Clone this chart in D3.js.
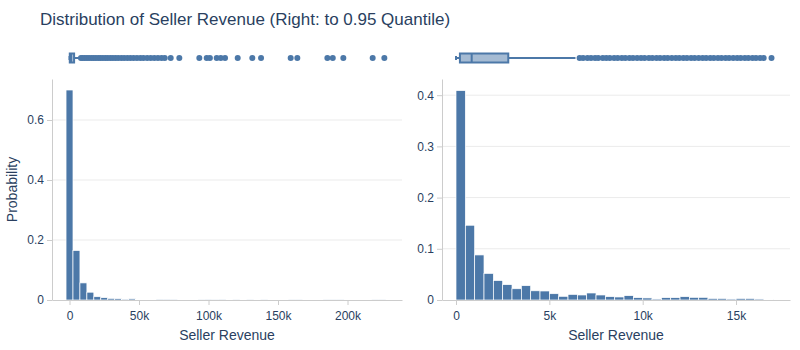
<!DOCTYPE html>
<html>
<head>
<meta charset="utf-8">
<script src="https://cdn.jsdelivr.net/npm/d3@7"></script>
<style>
	body { margin: 0; background: #fff; }
	svg text { font-family: "Liberation Sans", Arial, sans-serif; fill: #2a3f5f; }
</style>
</head>
<body>
<div id="chart"></div>
<script>
/**
 * Data
 */
var titleText = "Distribution of Seller Revenue (Right: to 0.95 Quantile)";
var xTitle = "Seller Revenue";
var yTitle = "Probability";

// left: full data, bins of 5k starting at -2.5k
var leftBinStart = -2500, leftBinSize = 5000;
var leftProb = [0.70, 0.165, 0.057, 0.026, 0.011, 0.0078, 0.0055, 0.0045, 0.003, 0.004,
	0.002, 0.002, 0.0015, 0.001, 0.0008, 0.0006, 0, 0, 0, 0.0004,
	0.0006, 0.0004, 0.0006, 0, 0.0004, 0, 0.0004, 0, 0.0004, 0,
	0, 0, 0.0004, 0.0004, 0, 0, 0, 0.0004, 0.0004, 0.0004,
	0, 0, 0, 0, 0.0004, 0.0004];

// right: data up to the 0.95 quantile, bins of 500
var rightBinStart = 0, rightBinSize = 500;
var rightProb = [0.409, 0.146, 0.088, 0.052, 0.038, 0.030, 0.022, 0.028, 0.018, 0.0176,
	0.0123, 0.0072, 0.011, 0.0098, 0.0137, 0.0098, 0.0065, 0.0059, 0.0085, 0.0046,
	0.004, 0.002, 0.0046, 0.0046, 0.0065, 0.0052, 0.0052, 0.003, 0.003, 0.002,
	0.003, 0.003, 0.002, 0.0008];

// marginal box plots: [q1, median, q3] and [lower, upper] whiskers
var leftQuartiles = [200, 1100, 3300];
var leftWhiskers = [0, 7900];
var leftOutliers = [8200, 9500, 11000, 12600, 14100, 15800, 17400, 19000, 20700, 22300,
	24000, 25800, 27500, 29400, 31200, 33100, 35000, 37200, 39300, 41600,
	43800, 46100, 48500, 51000, 53200, 55900, 58400, 61000, 63600, 66200,
	68500, 72800, 79000, 93400, 98700, 101000, 105900, 108800, 111900, 121000,
	131500, 137800, 159100, 163900, 185500, 189400, 197000, 218100, 226500];

var rightQuartiles = [210, 840, 2800];
var rightWhiskers = [0, 6400];
var rightOutliers = [6620, 6810, 7040, 7230, 7450, 7620, 7860, 8050, 8240, 8470,
	8660, 8880, 9070, 9290, 9480, 9700, 9910, 10100, 10330, 10520,
	10740, 10930, 11150, 11340, 11560, 11770, 11960, 12180, 12370, 12590,
	12780, 13000, 13210, 13400, 13620, 13810, 14030, 14220, 14440, 14630,
	14850, 15060, 15250, 15470, 15660, 15880, 16070, 16290, 16480, 16900];

var leftXTicks = [0, 50000, 100000, 150000, 200000];
var rightXTicks = [0, 5000, 10000, 15000];
var leftYTicks = [0, 0.2, 0.4, 0.6];
var rightYTicks = [0, 0.1, 0.2, 0.3, 0.4];

/**
 * Global layout values
 */
var _width = 800, _height = 350;
var _color = "#4c78a8";
var _plotTop = 79, _plotBottom = 300;	// histogram area
var _boxY = 58, _boxH = 9;					// marginal box strip

var svg = d3.select("#chart").append("svg")
	.attr("width", _width)
	.attr("height", _height);

svg.append("text")
	.attr("x", 40)
	.attr("y", 25)
	.style("font-size", "17px")
	.text(titleText);

/**
 * Draws one panel: histogram, axes, gridlines and the box strip above it.
 */
function drawPanel(opt) {
	var x = d3.scaleLinear().domain(opt.xDomain).range([opt.left, opt.right]);
	var y = d3.scaleLinear().domain(opt.yDomain).range([_plotBottom, _plotTop]);
	var g = svg.append("g");

	// gridlines
	g.selectAll(".grid")
		.data(opt.yTicks.filter(function(d) { return d > 0; }))
		.enter().append("line")
		.attr("x1", opt.left).attr("x2", opt.right)
		.attr("y1", function(d) { return y(d); })
		.attr("y2", function(d) { return y(d); })
		.attr("stroke", "#ebebeb")
		.attr("stroke-width", 1);

	// bars
	g.selectAll(".bar")
		.data(opt.prob)
		.enter().append("rect")
		.attr("x", function(d, i) { return x(opt.binStart + i * opt.binSize); })
		.attr("width", function(d, i) {
			return x(opt.binStart + (i + 1) * opt.binSize) - x(opt.binStart + i * opt.binSize);
		})
		.attr("y", function(d) { return y(d); })
		.attr("height", function(d) { return _plotBottom - y(d); })
		.attr("fill", _color)
		.attr("stroke", "#fff")
		.attr("stroke-width", 0.7);

	// axes
	var xAxis = d3.axisBottom(x).tickValues(opt.xTicks)
		.tickFormat(d3.format("~s")).tickSize(5).tickSizeOuter(0).tickPadding(6);
	var yAxis = d3.axisLeft(y).tickValues(opt.yTicks)
		.tickFormat(function(d) { return d === 0 ? "0" : d3.format(".1f")(d); })
		.tickSize(5).tickSizeOuter(0).tickPadding(3);

	var gx = g.append("g").attr("transform", "translate(0," + _plotBottom + ")").call(xAxis);
	var gy = g.append("g").attr("transform", "translate(" + opt.left + ",0)").call(yAxis);
	[gx, gy].forEach(function(a) {
		a.select(".domain").attr("stroke", "#cccccc");
		a.selectAll(".tick line").attr("stroke", "#cccccc");
		a.selectAll("text").style("font-size", "12px").attr("fill", "#2a3f5f");
	});

	g.append("text")
		.attr("x", (opt.left + opt.right) / 2)
		.attr("y", 340)
		.attr("text-anchor", "middle")
		.style("font-size", "14px")
		.text(xTitle);

	// box strip
	var b = svg.append("g");
	b.append("line")
		.attr("x1", x(opt.whiskers[0])).attr("x2", x(opt.quartiles[0]))
		.attr("y1", _boxY).attr("y2", _boxY)
		.attr("stroke", _color).attr("stroke-width", 2);
	b.append("line")
		.attr("x1", x(opt.quartiles[2])).attr("x2", x(opt.whiskers[1]))
		.attr("y1", _boxY).attr("y2", _boxY)
		.attr("stroke", _color).attr("stroke-width", 2);
	b.append("line")
		.attr("x1", x(opt.whiskers[0])).attr("x2", x(opt.whiskers[0]))
		.attr("y1", _boxY - 2).attr("y2", _boxY + 2)
		.attr("stroke", _color).attr("stroke-width", 2);
	b.append("rect")
		.attr("x", x(opt.quartiles[0]))
		.attr("width", x(opt.quartiles[2]) - x(opt.quartiles[0]))
		.attr("y", _boxY - _boxH / 2)
		.attr("height", _boxH)
		.attr("fill", "rgba(76,120,168,0.5)")
		.attr("stroke", _color).attr("stroke-width", 2);
	b.append("line")
		.attr("x1", x(opt.quartiles[1])).attr("x2", x(opt.quartiles[1]))
		.attr("y1", _boxY - _boxH / 2).attr("y2", _boxY + _boxH / 2)
		.attr("stroke", _color).attr("stroke-width", 2);
	b.selectAll(".pt")
		.data(opt.outliers)
		.enter().append("circle")
		.attr("cx", function(d) { return x(d); })
		.attr("cy", _boxY)
		.attr("r", 3)
		.attr("fill", _color);
}

drawPanel({
	left: 52, right: 402,
	xDomain: [-12600, 239200], yDomain: [0, 0.7367],
	binStart: leftBinStart, binSize: leftBinSize, prob: leftProb,
	xTicks: leftXTicks, yTicks: leftYTicks,
	quartiles: leftQuartiles, whiskers: leftWhiskers, outliers: leftOutliers
});

drawPanel({
	left: 442, right: 790,
	xDomain: [-750, 17890], yDomain: [0, 0.4316],
	binStart: rightBinStart, binSize: rightBinSize, prob: rightProb,
	xTicks: rightXTicks, yTicks: rightYTicks,
	quartiles: rightQuartiles, whiskers: rightWhiskers, outliers: rightOutliers
});

svg.append("text")
	.attr("transform", "translate(17," + ((_plotTop + _plotBottom) / 2) + ") rotate(-90)")
	.attr("text-anchor", "middle")
	.style("font-size", "14px")
	.text(yTitle);
</script>
</body>
</html>
